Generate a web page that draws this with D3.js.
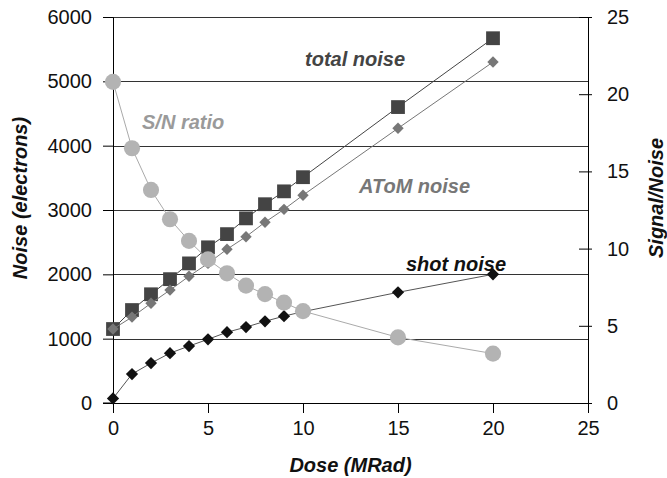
<!DOCTYPE html>
<html>
<head>
<meta charset="utf-8">
<script src="https://cdn.jsdelivr.net/npm/d3@7"></script>
<style>
  body { margin: 0; background: #fff; }
  text { font-family: "Liberation Sans", Arial, sans-serif; }
</style>
</head>
<body>
<div id="chart"></div>
<script>
// Data
const dose = [0, 1, 2, 3, 4, 5, 6, 7, 8, 9, 10, 15, 20]
const totalNoise = [1150, 1445, 1690, 1925, 2170, 2420, 2625, 2870, 3090, 3290, 3510, 4600, 5670]
const atomNoise = [1150, 1335, 1550, 1755, 1970, 2170, 2390, 2585, 2810, 3010, 3230, 4270, 5300]
const shotNoise = [70, 450, 620, 775, 885, 990, 1100, 1180, 1270, 1350, 1420, 1720, 2000]
const snRatio = [20.8, 16.5, 13.8, 11.9, 10.5, 9.3, 8.4, 7.6, 7.05, 6.5, 5.95, 4.25, 3.2]
const noiseTicks = [0, 1000, 2000, 3000, 4000, 5000, 6000]
const snTicks = [0, 5, 10, 15, 20, 25]
const doseTicks = [0, 5, 10, 15, 20, 25]

const width = 667
const height = 478
const margin = { top: 17, right: 79, bottom: 75, left: 113 }
const innerW = width - margin.left - margin.right
const innerH = height - margin.top - margin.bottom

const svg = d3.select('#chart')
  .append('svg')
    .attr('width', width)
    .attr('height', height)

const g = svg.append('g')
    .attr('transform', `translate(${margin.left},${margin.top})`)

const x = d3.scaleLinear().domain([0, 25]).range([0, innerW])
const yL = d3.scaleLinear().domain([0, 6000]).range([innerH, 0])
const yR = d3.scaleLinear().domain([0, 25]).range([innerH, 0])

const fontSize = 20

// Gridlines
g.append('g')
  .selectAll('line')
  .data(noiseTicks.slice(1))
  .enter()
  .append('line')
    .attr('x1', 0)
    .attr('x2', innerW)
    .attr('y1', d => Math.round(yL(d)) + 0.5)
    .attr('y2', d => Math.round(yL(d)) + 0.5)
    .attr('stroke', '#333')
    .attr('stroke-width', 1)

// Left axis
const axL = g.append('g')
  .call(d3.axisLeft(yL).tickValues(noiseTicks).tickSize(10).tickPadding(11).tickFormat(d3.format('d')))
axL.selectAll('text').attr('font-size', fontSize).attr('fill', '#111')

// Bottom axis
const axB = g.append('g')
    .attr('transform', `translate(0,${innerH})`)
  .call(d3.axisBottom(x).tickValues(doseTicks).tickSize(10).tickPadding(8))
axB.selectAll('text').attr('font-size', fontSize).attr('fill', '#111')
axB.append('line')
    .attr('x1', -10).attr('x2', 0)
    .attr('stroke', '#000')

// Right axis
const axR = g.append('g')
    .attr('transform', `translate(${innerW},0)`)
  .call(d3.axisRight(yR).tickValues(snTicks).tickSize(4).tickPadding(15))
axR.selectAll('.tick line').attr('x1', -9)
axR.selectAll('text').attr('font-size', fontSize).attr('fill', '#111')

svg.selectAll('.domain').attr('stroke', '#000')
svg.selectAll('.tick line').attr('stroke', '#000')

// Axis titles
svg.append('text')
    .attr('transform', `translate(27,${margin.top + innerH / 2 - 12}) rotate(-90)`)
    .attr('text-anchor', 'middle')
    .attr('font-size', fontSize)
    .attr('font-weight', 'bold')
    .attr('font-style', 'italic')
    .attr('fill', '#111')
    .text('Noise (electrons)')

svg.append('text')
    .attr('transform', `translate(663,${margin.top + innerH / 2 - 12}) rotate(-90)`)
    .attr('text-anchor', 'middle')
    .attr('font-size', fontSize)
    .attr('font-weight', 'bold')
    .attr('font-style', 'italic')
    .attr('fill', '#111')
    .text('Signal/Noise')

svg.append('text')
    .attr('x', margin.left + innerW / 2)
    .attr('y', 472)
    .attr('text-anchor', 'middle')
    .attr('font-size', fontSize)
    .attr('font-weight', 'bold')
    .attr('font-style', 'italic')
    .attr('fill', '#111')
    .text('Dose (MRad)')

// Series
const drawSeries = (values, yScale, lineColor, markerColor, symbolType, size) => {
  const pts = dose.map((d, i) => [x(d), yScale(values[i])])
  g.append('path')
      .attr('d', d3.line()(pts))
      .attr('fill', 'none')
      .attr('stroke', lineColor)
      .attr('stroke-width', 1)
  g.append('g')
    .selectAll('path')
    .data(pts)
    .enter()
    .append('path')
      .attr('transform', d => `translate(${d[0]},${d[1]})`)
      .attr('d', d3.symbol().type(symbolType).size(size))
      .attr('fill', markerColor)
}

const diamond = {
  draw (context, size) {
    const r = Math.sqrt(size / 2)
    context.moveTo(0, -r)
    context.lineTo(r, 0)
    context.lineTo(0, r)
    context.lineTo(-r, 0)
    context.closePath()
  }
}

drawSeries(totalNoise, yL, '#444', '#444', d3.symbolSquare, 190)
drawSeries(atomNoise, yL, '#777', '#777', diamond, 65)
drawSeries(shotNoise, yL, '#555', '#111', diamond, 75)
drawSeries(snRatio, yR, '#aaa', '#b3b3b3', d3.symbolCircle, 205)

// Series labels
const labels = [
  { text: 'total noise', x: 305, y: 66, color: '#444' },
  { text: 'S/N ratio', x: 142, y: 129, color: '#9a9a9a' },
  { text: 'AToM noise', x: 359, y: 193, color: '#777' },
  { text: 'shot noise', x: 406, y: 271, color: '#111' }
]
svg.append('g')
  .selectAll('text')
  .data(labels)
  .enter()
  .append('text')
    .attr('x', d => d.x)
    .attr('y', d => d.y)
    .attr('font-size', fontSize)
    .attr('font-weight', 'bold')
    .attr('font-style', 'italic')
    .attr('fill', d => d.color)
    .text(d => d.text)
</script>
</body>
</html>
